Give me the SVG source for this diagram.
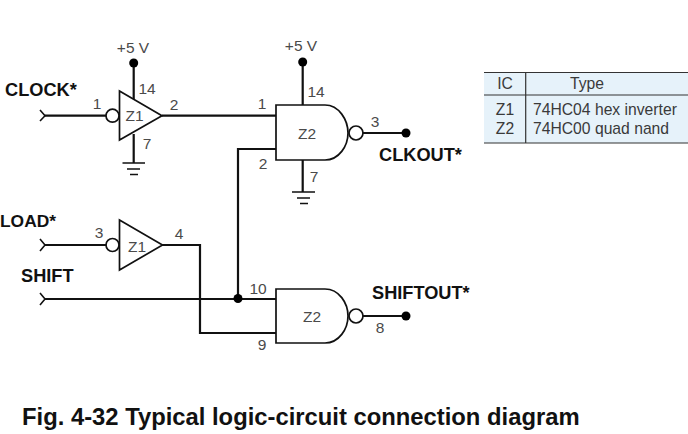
<svg xmlns="http://www.w3.org/2000/svg" width="688" height="434" viewBox="0 0 688 434">
<style>
.w{fill:none;stroke:#111;stroke-width:2.2}
.c{fill:none;stroke:#111;stroke-width:1.6}
.g{fill:#fff;stroke:#111;stroke-width:1.7}
.d{fill:#000}
text{font-family:"Liberation Sans",Arial,sans-serif}
.n{font-size:15.500px;fill:#4a4a4a}
.b{font-size:18.200px;font-weight:bold;fill:#111}
.t{font-size:15.700px;fill:#3a3a3a}
</style>
<rect width="688" height="434" fill="#fff"/>
<g id="connectors">
<path class="w" d="M45 115.700H106M162 115.700H276"/>
<path class="c" d="M40 110L45 115.700L40 121"/>
<path class="w" d="M276 149H238V298"/>
<path class="w" d="M45 245H106"/>
<path class="c" d="M40 239L45 245L40 251"/>
<path class="w" d="M162 245H200V333H276"/>
<path class="w" d="M45 299H276"/>
<path class="c" d="M40 293L45 299L40 305"/>
<path class="w" d="M133.700 63V99M133.700 134V163"/>
<path class="w" d="M302.700 62V105M302.700 160V192"/>
<path class="w" d="M363 133H406M363 316H406"/>
<circle class="d" cx="238" cy="298.500" r="4.500"/>
</g>
<g id="z1a">
<path class="g" d="M119.500 91L162 115.700L119.500 140Z"/>
<circle class="g" cx="112.500" cy="115.700" r="6.500"/>
<text class="n" x="134.500" y="121" text-anchor="middle">Z1</text>
<text class="n" x="97" y="109" text-anchor="middle">1</text>
<text class="n" x="174" y="110" text-anchor="middle">2</text>
<text class="n" x="147" y="94" text-anchor="middle">14</text>
<text class="n" x="147" y="149" text-anchor="middle">7</text>
</g>
<g id="z1b">
<path class="g" d="M119.500 220L162.500 245L119.500 270Z"/>
<circle class="g" cx="112.500" cy="245" r="6.500"/>
<text class="n" x="137" y="252" text-anchor="middle">Z1</text>
<text class="n" x="99" y="238" text-anchor="middle">3</text>
<text class="n" x="179" y="239" text-anchor="middle">4</text>
</g>
<g id="z2a">
<path class="g" d="M276 105H325C339 105 348 120 348 133C348 146 339 160 325 160H276Z"/>
<circle class="g" cx="356" cy="133" r="7"/>
<text class="n" x="307" y="139" text-anchor="middle">Z2</text>
<text class="n" x="262" y="109" text-anchor="middle">1</text>
<text class="n" x="263" y="169" text-anchor="middle">2</text>
<text class="n" x="375" y="127" text-anchor="middle">3</text>
<text class="n" x="316" y="97" text-anchor="middle">14</text>
<text class="n" x="314" y="182" text-anchor="middle">7</text>
</g>
<g id="z2b">
<path class="g" d="M276 289H325C339 289 348 303 348 316C348 329 339 343 325 343H276Z"/>
<circle class="g" cx="356" cy="316" r="7"/>
<text class="n" x="312" y="322" text-anchor="middle">Z2</text>
<text class="n" x="258" y="294" text-anchor="middle">10</text>
<text class="n" x="262" y="350" text-anchor="middle">9</text>
<text class="n" x="380" y="333" text-anchor="middle">8</text>
</g>
<g id="power1">
<circle class="d" cx="133.700" cy="63" r="4.500"/>
<text class="n" x="133" y="53" text-anchor="middle">+5 V</text>
</g>
<g id="power2">
<circle class="d" cx="302.700" cy="62" r="4.500"/>
<text class="n" x="301" y="51" text-anchor="middle">+5 V</text>
</g>
<g id="ground1">
<path class="g" d="M122.500 163H145M127 169H140M130 174.500H138"/>
</g>
<g id="ground2">
<path class="g" d="M292 192H315M297 198H310M300 203.500H308"/>
</g>
<g id="outputs">
<circle class="d" cx="406" cy="133" r="4.500"/>
<circle class="d" cx="406" cy="316" r="4.500"/>
</g>
<g id="labels">
<text class="b" x="5" y="95.500">CLOCK*</text>
<text class="b" x="0" y="227" style="font-size:17.400px">LOAD*</text>
<text class="b" x="21" y="282">SHIFT</text>
<text class="b" x="379" y="161">CLKOUT*</text>
<text class="b" x="372" y="299">SHIFTOUT*</text>
</g>
<g id="table">
<rect x="484" y="72" width="204" height="71" fill="#e6f2fa"/>
<path d="M484 72.500H688M484 95H688M484 143H688M525.700 72V143" fill="none" stroke="#333" stroke-width="1.200"/>
<text class="t" x="505" y="89" text-anchor="middle">IC</text>
<text class="t" x="587" y="89" text-anchor="middle">Type</text>
<text class="t" x="505" y="115" text-anchor="middle">Z1</text>
<text class="t" x="505" y="134" text-anchor="middle">Z2</text>
<text class="t" x="533" y="115">74HC04 hex inverter</text>
<text class="t" x="533" y="134">74HC00 quad nand</text>
</g>
<text id="caption" x="22" y="425" font-size="23.800" font-weight="bold" fill="#111">Fig. 4-32 Typical logic-circuit connection diagram</text>
</svg>
